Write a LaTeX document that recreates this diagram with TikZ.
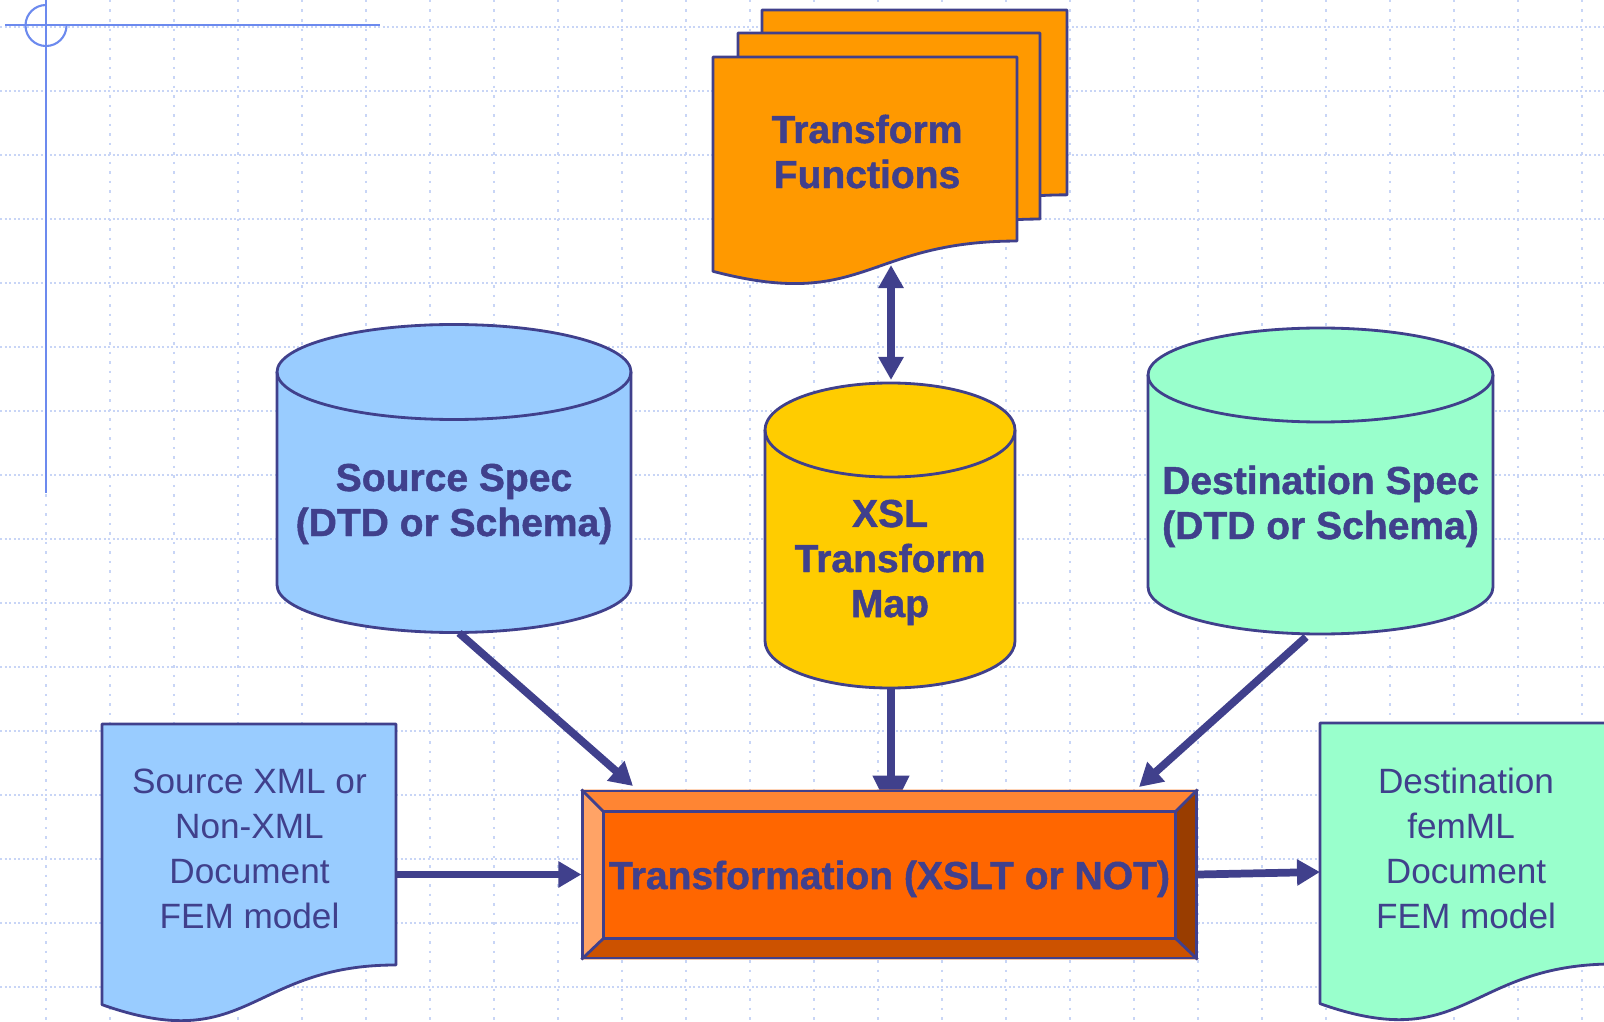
\documentclass[tikz,border=0pt]{standalone}
\usepackage{fontspec}
\setmainfont{Liberation Sans}[BoldFeatures={FakeBold=1.2}]
\usetikzlibrary{arrows.meta,calc}

\definecolor{ink}{RGB}{64,64,140}
\definecolor{guide}{RGB}{108,138,238}
\definecolor{gridc}{RGB}{200,213,246}
\definecolor{srcfill}{HTML}{99CCFF}
\definecolor{dstfill}{HTML}{99FFCC}
\definecolor{xslfill}{HTML}{FFCC00}
\definecolor{funcfill}{HTML}{FF9900}
\definecolor{transmid}{HTML}{FF6600}
\definecolor{bevtop}{HTML}{FF8533}
\definecolor{bevleft}{HTML}{FFA366}
\definecolor{bevright}{HTML}{993D00}
\definecolor{bevbot}{HTML}{CC5200}

\pgfdeclarelayer{gridlayer}
\pgfdeclarelayer{bevellayer}
\pgfsetlayers{gridlayer,bevellayer,main}

\newcommand\boldfont{\fontsize{11.1pt}{12.8pt}\selectfont\bfseries}
\newcommand\plainfont{\fontsize{10pt}{12.8pt}\selectfont}
\newcommand\stack[1]{\begin{tabular}[t]{@{}c@{}}#1\end{tabular}}

\tikzset{
  inkline/.style={draw=ink, line width=0.8pt, line join=round},
  boldtxt/.style={text=ink, inner sep=0pt, anchor=base, font=\boldfont},
  plaintxt/.style={text=ink, inner sep=0pt, anchor=base, font=\plainfont},
  flow/.style={draw=ink, line width=2.2pt, -{Triangle[length=0.23cm,width=0.25cm]}},
  flowwide/.style={draw=ink, line width=2.2pt, -{Triangle[length=0.38cm,width=0.35cm]}},
  flowboth/.style={draw=ink, line width=2.2pt,
    {Triangle[length=0.23cm,width=0.24cm]}-{Triangle[length=0.23cm,width=0.24cm]}},
  gridh/.style={draw=gridc, line width=0.6pt, dash pattern=on 0.02cm off 0.025cm},
  gridv/.style={draw=gridc, line width=0.6pt, dash pattern=on 0.025cm off 0.07cm},
  guideline/.style={draw=guide, line width=0.6pt},
}

% database cylinder: centre x, top-ellipse y, bottom-ellipse y, x radius, y radius (px), fill
\newcommand\dbcyl[6]{%
  \filldraw[inkline, fill=#6] ({#1-#4},#2) -- ({#1-#4},#3)
    arc[start angle=180, end angle=360, x radius=#4*0.01cm, y radius=#5*0.01cm]
    -- ({#1+#4},#2)
    arc[start angle=0, end angle=180, x radius=#4*0.01cm, y radius=#5*0.01cm] -- cycle;
  \draw[inkline] ({#1-#4},#2)
    arc[start angle=180, end angle=360, x radius=#4*0.01cm, y radius=#5*0.01cm];
}

% document page with a wavy lower edge: left, top, width, height (px), fill
\newcommand\docpage[5]{%
  \filldraw[inkline, fill=#5] (#1,#2) -- ({#1+#3},#2) -- ({#1+#3},{#2+0.80194*#4})
    .. controls ({#1+0.5*#3},{#2+0.80194*#4}) and ({#1+0.5*#3},{#2+1.1075*#4})
    .. (#1,{#2+0.93389*#4}) -- cycle;
}

\begin{document}
\begin{tikzpicture}[x=0.01cm, y=-0.01cm]
\useasboundingbox (0,0) rectangle (1604,1022);
\clip (0,0) rectangle (1604,1022);

% dotted background grid
\begin{pgfonlayer}{gridlayer}
  \foreach \gy in {27,91,...,987} \draw[gridh] (0,\gy) -- (1604,\gy);
  \foreach \gx in {46,110,...,1582} \draw[gridv] (\gx,0) -- (\gx,1022);
\end{pgfonlayer}

% corner guide mark
\draw[guideline] (46,0) -- (46,493);
\draw[guideline] (5,25) -- (380,25);
\draw[guideline] (46,5) arc[start angle=90, end angle=360, radius=0.205cm];

% stacked transform-function pages
\docpage{762}{10}{305}{230.5}{funcfill}
\docpage{738}{33}{302}{232}{funcfill}
\docpage{713}{57}{304}{229.5}{funcfill}
\node[boldtxt] (tfunc) at (867,143) {\stack{Transform\\Functions}};

% specification stores
\dbcyl{454}{372}{585}{177}{47.5}{srcfill}
\node[boldtxt] (srcspec) at (454,491) {\stack{Source Spec\\(DTD or Schema)}};

\dbcyl{890}{430}{641}{125}{47}{xslfill}
\node[boldtxt] (xsl) at (890,527) {\stack{XSL\\Transform\\Map}};

\dbcyl{1320.5}{375}{587}{172.5}{47}{dstfill}
\node[boldtxt] (dstspec) at (1320.5,494) {\stack{Destination Spec\\(DTD or Schema)}};

% input and output documents
\docpage{102}{724}{294}{300.5}{srcfill}
\node[plaintxt] (srcdoc) at (249.5,793) {\stack{Source XML or\\Non-XML\\Document\\FEM model}};

\docpage{1320}{723}{294}{300.5}{dstfill}
\node[plaintxt] (dstdoc) at (1466,793) {\stack{Destination\\femML\hspace*{0.28em}\\Document\\FEM model}};

% bevelled transformation block
\node[inkline, minimum width=6.13cm, minimum height=1.67cm, inner sep=0pt,
      text=ink, font=\boldfont, text height=0.29cm, text depth=0cm]
  (trans) at (889.5,874.5) {Transformation (XSLT or NOT)};

% connector end points on the shapes
\coordinate (tf-out) at (891,265);
\coordinate (xsl-top) at (891,380);
\coordinate (xsl-out) at (891,687);
\coordinate (srcspec-out) at (459,633);
\coordinate (dstspec-out) at (1306,637);
\coordinate (trans-in-l) at (633,786);
\coordinate (trans-in-r) at (1139,787);
\coordinate (trans-in-c) at ($(xsl-out |- trans.north)+(0,24)$);
\coordinate (srcdoc-out) at (396,874.5);
\coordinate (dstdoc-in) at (1320,872);

\begin{pgfonlayer}{bevellayer}
  % the map feeds in from above; its tip disappears under the block
  \draw[flowwide] (xsl-out) -- (trans-in-c);
  \coordinate (ti-nw) at ($(trans.north west)+(22,22)$);
  \coordinate (ti-ne) at ($(trans.north east)+(-22,22)$);
  \coordinate (ti-sw) at ($(trans.south west)+(22,-21)$);
  \coordinate (ti-se) at ($(trans.south east)+(-22,-21)$);
  \fill[bevtop] (trans.north west) -- (trans.north east) -- (ti-ne) -- (ti-nw) -- cycle;
  \fill[bevbot] (trans.south west) -- (trans.south east) -- (ti-se) -- (ti-sw) -- cycle;
  \fill[bevleft] (trans.north west) -- (ti-nw) -- (ti-sw) -- (trans.south west) -- cycle;
  \fill[bevright] (trans.north east) -- (ti-ne) -- (ti-se) -- (trans.south east) -- cycle;
  \filldraw[inkline, fill=transmid] (ti-nw) rectangle (ti-se);
  \draw[inkline] (trans.north west) -- (ti-nw) (trans.north east) -- (ti-ne)
                 (trans.south west) -- (ti-sw) (trans.south east) -- (ti-se);
\end{pgfonlayer}

% data flow
\draw[flowboth] (xsl-top) -- (tf-out);
\draw[flow] (srcspec-out) -- (trans-in-l);
\draw[flow] (dstspec-out) -- (trans-in-r);
\draw[flow] (srcdoc-out) -- (trans.west);
\draw[flow] (trans.east) -- (dstdoc-in);
\end{tikzpicture}
\end{document}
